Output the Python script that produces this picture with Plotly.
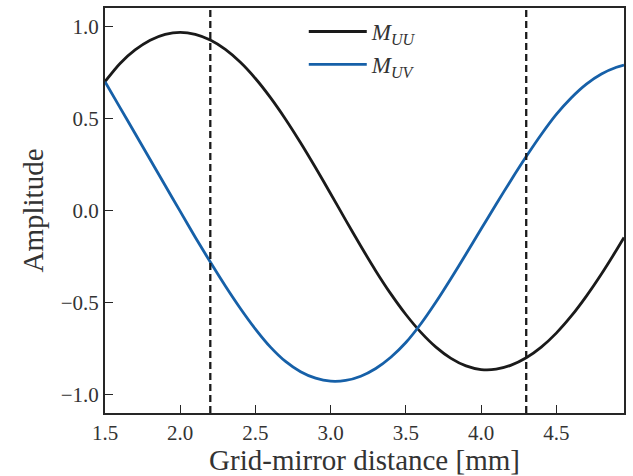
import plotly.graph_objects as go

# Grid-mirror distance [mm]
distance = [1.5, 1.6, 1.7, 1.8, 1.9, 2.0, 2.1, 2.2, 2.3, 2.4, 2.5, 2.6, 2.7, 2.8,
            2.9, 3.0, 3.1, 3.2, 3.3, 3.4, 3.5, 3.6, 3.7, 3.8, 3.9, 4.0, 4.1, 4.2,
            4.3, 4.4, 4.5, 4.6, 4.7, 4.8, 4.9, 4.95]

m_uu = [0.70, 0.799, 0.872, 0.925, 0.957, 0.968, 0.957, 0.926, 0.875, 0.805,
        0.717, 0.613, 0.496, 0.368, 0.232, 0.091, -0.052, -0.193, -0.328, -0.453,
        -0.565, -0.662, -0.742, -0.803, -0.844, -0.864, -0.862, -0.840, -0.800, -0.742,
        -0.666, -0.573, -0.465, -0.345, -0.215, -0.147]

m_uv = [0.70, 0.559, 0.418, 0.277, 0.136, -0.005, -0.145, -0.28, -0.41, -0.532,
        -0.644, -0.742, -0.820, -0.876, -0.911, -0.927, -0.923, -0.900, -0.858, -0.797,
        -0.717, -0.615, -0.497, -0.369, -0.236, -0.101, 0.034, 0.166, 0.293, 0.413,
        0.522, 0.613, 0.687, 0.742, 0.778, 0.79]

dashed_positions = [2.2, 4.3]

x_ticks = [1.5, 2.0, 2.5, 3.0, 3.5, 4.0, 4.5]
y_ticks = [-1.0, -0.5, 0.0, 0.5, 1.0]

BLACK = "#1a1a1a"
BLUE = "#1660a8"
AX = "#262626"
TXT = "#333333"
FONT = "Liberation Serif"

fig = go.Figure()
fig.add_trace(go.Scatter(x=distance, y=m_uu, mode="lines",
                         line=dict(color=BLACK, width=2.8, shape="spline", smoothing=0.8),
                         name="<i>M</i><sub><i>UU</i></sub>"))
fig.add_trace(go.Scatter(x=distance, y=m_uv, mode="lines",
                         line=dict(color=BLUE, width=2.8, shape="spline", smoothing=0.8),
                         name="<i>M</i><sub><i>UV</i></sub>"))

for xv in dashed_positions:
    fig.add_shape(type="line", xref="x", yref="paper", x0=xv, x1=xv, y0=0, y1=1,
                  line=dict(color=BLACK, width=2.3, dash="7px,4px"), layer="above")

axis_common = dict(showgrid=False, zeroline=False, showline=True, mirror=True, automargin=False,
                   linecolor=AX, linewidth=2, ticks="inside", ticklen=8, tickwidth=1.4,
                   tickcolor=AX, tickfont=dict(family=FONT, size=21, color=TXT))

fig.update_xaxes(range=[1.5, 4.95], tickvals=x_ticks, tickformat=".1f",
                 title=dict(text="Grid-mirror distance [mm]", font=dict(family=FONT, size=29, color=TXT),
                            standoff=9),
                 **axis_common)
fig.update_yaxes(range=[-1.1, 1.1], tickvals=y_ticks, tickformat=".1f",
                 title=dict(text="Amplitude", font=dict(family=FONT, size=29, color=TXT), standoff=9),
                 **axis_common)

fig.update_layout(
    width=633, height=476,
    margin=dict(l=105, r=9, t=8, b=63),
    plot_bgcolor="white", paper_bgcolor="white",
    showlegend=True,
    legend=dict(x=0.383, y=0.995, xanchor="left", yanchor="top", bgcolor="rgba(0,0,0,0)",
                font=dict(family=FONT, size=23, color=TXT), itemwidth=58, tracegroupgap=0),
)

fig.write_html("out.html", config={"displayModeBar": False},
               post_script="document.body.style.margin='0px';document.body.style.overflow='hidden';")
